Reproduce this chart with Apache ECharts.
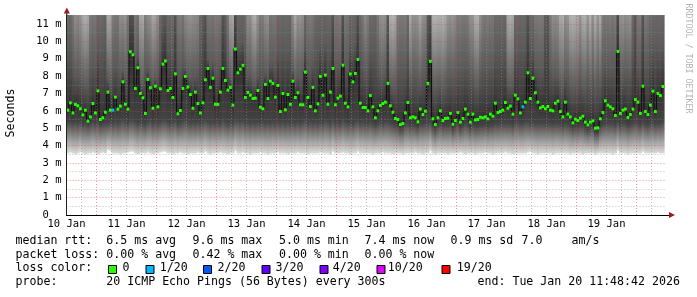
<!DOCTYPE html>
<html><head><meta charset="utf-8">
<script src="https://cdn.jsdelivr.net/npm/echarts@6/dist/echarts.min.js"></script>
<style>html,body{margin:0;padding:0;background:#fff}#c{width:697px;height:297px}</style>
</head><body><div id="c"></div>
<script>
// hour index 0 = 10 Jan 12:00, one value per hour
const median = [6.04,6.46,5.88,6.37,6.29,6.12,5.77,6.04,5.40,5.65,
 6.42,5.88,7.15,5.50,5.60,5.92,7.08,6.04,6.04,6.79,
 6.10,6.27,7.67,6.38,6.10,9.40,9.23,7.29,8.48,7.00,
 6.75,5.85,7.81,7.33,6.15,7.42,6.23,7.27,8.69,8.87,
 7.17,7.29,6.77,8.13,5.83,6.02,7.29,7.98,7.37,6.94,
 6.15,7.08,6.42,5.88,6.46,7.79,8.44,7.35,7.88,6.38,
 6.37,7.08,8.44,7.75,7.19,7.35,6.33,9.56,8.19,8.40,
 8.62,6.77,7.06,6.90,6.71,6.73,7.17,6.21,6.12,7.52,
 6.71,7.71,7.58,6.79,7.46,5.96,7.00,6.06,6.94,6.38,
 7.71,6.77,7.04,6.35,6.35,8.23,6.77,6.25,7.35,6.00,
 6.40,7.98,6.90,8.06,6.38,7.08,8.44,6.35,6.73,6.85,
 8.63,6.44,6.23,8.12,7.67,8.15,8.96,6.44,6.19,6.19,
 6.00,6.88,6.23,5.60,6.00,6.31,6.42,6.50,7.58,6.29,
 5.92,5.56,5.50,5.21,5.27,5.88,6.48,5.60,5.65,5.60,
 5.37,6.10,5.79,5.98,7.58,8.85,5.54,5.21,5.60,6.00,
 5.44,5.56,5.58,5.85,5.23,5.44,5.90,5.35,5.56,6.10,
 5.81,5.35,5.81,5.48,5.50,5.63,5.60,5.65,5.54,5.81,
 5.69,6.44,5.90,5.96,6.04,6.48,6.15,6.27,5.81,6.90,
 6.69,5.88,6.23,6.50,8.19,6.71,7.88,7.04,6.50,6.17,
 6.25,6.12,6.25,6.04,6.00,6.44,6.56,5.96,5.65,6.50,
 5.81,5.65,5.31,5.52,5.44,5.58,5.69,5.35,5.19,5.35,
 5.42,5.00,5.02,5.54,5.90,6.58,6.33,6.23,6.12,5.73,
 9.42,5.85,6.04,6.10,5.62,5.79,6.10,6.65,6.50,5.85,
 7.42,5.96,5.79,6.33,7.13,5.96,7.00,6.88,7.40];

const smokeMin = [3.55,3.6,3.55,3.5,3.55,3.65,3.55,3.5,3.55,3.55,3.6,3.55,3.5,3.55,3.6,3.55,3.75,3.7,3.55,3.55,
 3.55,3.5,3.55,3.55,3.6,3.65,3.65,3.55,3.5,3.55,3.55,3.55,3.6,3.55,3.5,3.55,3.55,3.6,3.65,3.65,
 3.55,3.55,3.5,3.55,3.55,3.6,3.55,3.55,3.5,3.55,3.55,3.55,3.6,3.55,3.55,3.65,3.55,3.5,3.55,3.55,
 3.55,3.6,3.55,3.55,3.5,3.55,3.55,3.7,3.55,3.55,3.6,3.55,3.55,3.5,3.55,3.55,3.55,3.6,3.55,3.55,
 3.5,3.55,3.55,3.55,3.6,3.55,3.55,3.55,3.5,3.55,3.55,3.55,3.6,3.55,3.55,3.55,3.5,3.55,3.55,3.55,
 3.55,3.6,3.55,3.55,3.55,3.5,3.65,3.55,3.55,3.55,3.6,3.55,3.55,3.5,3.55,3.55,3.65,3.55,3.55,3.55,
 3.55,3.55,3.5,3.55,3.55,3.55,3.6,3.55,3.55,3.55,3.5,3.55,3.55,3.55,3.5,3.55,3.55,3.55,3.55,3.6,
 3.55,3.55,3.5,3.55,3.55,3.7,3.55,3.5,3.55,3.55,3.55,3.55,3.5,3.55,3.55,3.55,3.55,3.6,3.55,3.5,
 3.55,3.55,3.55,3.5,3.55,3.55,3.55,3.6,3.55,3.55,3.5,3.55,3.55,3.55,3.55,3.6,3.55,3.55,3.5,3.55,
 3.55,3.55,3.55,3.55,3.6,3.65,3.55,3.55,3.5,3.55,3.55,3.55,3.55,3.55,3.5,3.55,3.55,3.55,3.55,3.55,
 3.55,3.5,3.55,3.55,3.55,3.55,3.5,3.55,3.55,3.55,3.55,3.5,3.55,3.55,3.55,3.55,3.55,3.55,3.5,3.55,
 3.7,3.55,3.55,3.55,3.5,3.55,3.55,3.55,3.55,3.55,3.65,3.55,3.55,3.55,3.55,3.55,3.6,3.55,3.55];

const smokeLow = [5.4,5.4,5.3,5.4,5.3,5.4,5.25,5.3,5.2,5.25,5.4,5.3,5.4,5.2,5.25,5.3,5.3,5.4,5.3,5.4,
 5.3,5.4,5.5,5.4,5.3,5.5,5.5,5.4,5.3,5.4,5.3,5.25,5.4,5.5,5.3,5.4,5.3,5.4,5.5,5.5,
 5.4,5.3,5.4,5.5,5.25,5.3,5.4,5.5,5.4,5.3,5.4,5.3,5.4,5.3,5.4,5.5,5.4,5.3,5.4,5.3,
 5.4,5.3,5.5,5.4,5.3,5.4,5.3,5.5,5.5,5.4,5.5,5.3,5.4,5.3,5.4,5.3,5.4,5.3,5.4,5.3,
 5.4,5.3,5.4,5.3,5.4,5.3,5.4,5.3,5.4,5.3,5.4,5.3,5.4,5.3,5.4,5.5,5.3,5.4,5.3,5.4,
 5.3,5.4,5.3,5.5,5.4,5.3,5.5,5.3,5.4,5.3,5.5,5.4,5.3,5.4,5.3,5.4,5.5,5.3,5.4,5.3,
 5.3,5.4,5.3,5.2,5.3,5.4,5.3,5.4,5.4,5.3,5.25,5.15,5.1,4.95,5.0,5.25,5.3,5.15,5.2,5.15,
 5.05,5.25,5.25,5.3,5.3,5.4,5.1,4.95,5.15,5.25,5.1,5.15,5.15,5.2,4.95,5.1,5.25,5.0,5.15,5.3,
 5.2,5.0,5.2,5.1,5.1,5.15,5.15,5.2,5.1,5.2,5.2,5.3,5.25,5.3,5.3,5.3,5.3,5.3,5.2,5.4,
 5.4,5.3,5.3,5.4,5.4,5.3,5.4,5.3,5.3,5.3,5.3,5.3,5.3,5.3,5.25,5.3,5.3,5.25,5.15,5.3,
 5.2,5.15,5.0,5.1,5.05,5.15,5.15,5.0,4.9,5.0,5.05,4.75,4.75,5.1,5.25,5.3,5.3,5.3,5.3,5.2,
 5.4,5.2,5.3,5.3,5.15,5.2,5.3,5.4,5.3,5.2,5.4,5.25,5.2,5.3,5.4,5.25,5.3,5.3,5.4];

const smokeHigh = [9.4,9.6,8.6,8.0,8.1,7.9,7.6,7.4,7.5,8.4,
 8.7,8.5,9.6,9.3,9.5,9.8,7.8,7.5,8.4,8.6,
 8.5,8.0,8.3,7.9,8.7,12.5,12.0,8.6,9.2,7.7,
 7.5,8.4,8.4,8.0,7.6,7.9,8.1,9.4,11.0,11.5,
 9.5,9.7,9.3,12.0,8.5,8.3,8.8,8.5,8.0,7.9,
 8.1,8.0,8.2,9.5,11.0,12.0,9.0,8.6,8.8,8.5,
 8.4,8.6,12.0,11.0,8.6,7.9,7.6,12.5,9.8,9.9,
 10.0,9.4,8.0,8.1,7.6,7.5,8.0,8.5,8.4,8.2,
 8.0,8.8,8.7,8.5,9.5,9.3,9.6,9.4,9.5,9.7,
 8.3,7.6,8.0,7.9,8.1,9.8,8.5,8.4,8.7,9.3,
 9.5,9.8,9.4,9.9,9.5,9.6,12.0,8.5,8.6,8.4,
 12.0,8.5,8.6,9.8,9.5,9.9,12.0,9.4,8.5,8.1,
 8.4,9.5,9.4,9.6,8.5,8.0,7.9,8.1,11.5,7.5,
 7.3,7.4,8.3,8.4,8.5,8.3,9.4,7.4,7.9,8.0,
 7.8,7.5,8.0,8.1,11.5,12.5,7.3,7.2,7.4,7.5,
 7.2,7.4,7.9,8.0,7.8,8.0,8.4,8.3,8.5,8.6,
 8.4,8.0,7.9,7.4,7.3,8.0,8.4,8.5,8.3,8.6,
 8.4,9.4,9.3,9.5,9.4,9.6,7.5,7.4,7.5,9.5,
 9.4,9.6,9.5,9.7,12.0,9.8,9.6,8.6,8.5,8.4,
 8.5,11.0,11.5,8.5,8.0,8.1,8.0,7.5,7.4,8.0,
 7.9,7.4,7.2,7.3,7.4,7.9,7.4,7.3,7.8,7.3,
 7.9,7.2,7.8,7.4,8.4,8.6,8.5,8.4,8.5,8.3,
 12.5,8.0,7.9,8.1,8.0,7.9,9.5,11.5,8.5,8.4,
 12.0,8.5,8.6,9.4,9.6,9.5,9.7,9.5,9.8];

const smokeMax = [23,25,19,15,16,15,13,12.5,13,18,
 20,19,24,22,25,26,12.8,13,18,19,
 20,15,15,14.5,19,40,36,19,20,13,
 12.8,18,15.5,15,13,13.2,15,23,32,34,
 24,25,23,38,19,18,20,15.5,15,14.5,
 15,15.5,16,24,30,36,19,19,20,18,
 19,20,36,30,19,13,12.8,40,25,26,
 26,23,15,15.5,13,12.6,15,19,18,15,
 14.5,20,19,19,24,23,25,23,24,25,
 15,12.8,15,14.5,15.5,25,19,18,19,23,
 24,25,23,26,24,24,36,19,19,18,
 36,19,20,25,24,25,38,23,19,15.5,
 18,24,23,25,19,15,14.5,15,34,12.6,
 12.3,12.8,18,19,19,18,23,12.8,15,15,
 14.5,13,15,15.5,34,40,12.5,12.3,12.6,12.5,
 12.3,12.8,14.5,15,14.5,15.5,18,18,19,19,
 18,15,14.5,12.6,12.4,15,18,19,18,19,
 19,23,22,24,23,24,12.8,12.5,13,24,
 23,25,24,25,38,25,24,19,19,18,
 19,30,34,19,15,15.5,15,12.8,12.6,15,
 14.5,12.5,12.3,12.5,12.8,14.5,12.6,12.5,14.5,12.4,
 15,12.5,14.5,12.8,18,19,19,18,20,18,
 40,15,14.5,15.5,15,14.5,24,34,19,18,
 36,19,20,23,24,24,25,24,25];

// [hour, lost pings out of 20]
const lossEvents = [[18, 1], [182, 1]];

const dayLabels = ['10 Jan','11 Jan','12 Jan','13 Jan','14 Jan','15 Jan','16 Jan','17 Jan','18 Jan','19 Jan'];
const midnightHours = [12,36,60,84,108,132,156,180,204,228];
const yTickValues = [0,1,2,3,4,5,6,7,8,9,10,11];

const lossThresholds = [0,1,2,3,4,10,19];
const lossLabels = ['0','1/20','2/20','3/20','4/20','10/20','19/20'];
const lossColors = ['#26ff00','#00b8ff','#0059ff','#5e00ff','#7e00ff','#dd00ff','#ff0000'];

const rttStats = ['6.5 ms avg','9.6 ms max','5.0 ms min','7.4 ms now','0.9 ms sd','7.0','am/s'];
const lossStats = ['0.00 % avg','0.42 % max','0.00 % min','0.00 % now'];
const probeText = '20 ICMP Echo Pings (56 Bytes) every 300s';
const endText = 'end: Tue Jan 20 11:48:42 2026';

// ---------------------------------------------------------------
const MONO = '"DejaVu Sans Mono", monospace';
const lossCount = median.map(() => 0);
lossEvents.forEach(([h, c]) => { lossCount[h] = c; });
function lossColor(c) {
  let col = lossColors[0];
  for (let i = 0; i < lossThresholds.length; i++) if (c >= lossThresholds[i]) col = lossColors[i];
  return col;
}

const smokeData = median.map((m, h) => [h, smokeMin[h], smokeLow[h], m, smokeHigh[h], smokeMax[h]]);
const medianData = median.map((m, h) => [h, m]);
const segData = median.map((m, h) => [h, m, lossCount[h]]);

// grid lines (drawn over the smoke, like rrdtool)
const MAJOR = {color: 'rgba(235,60,60,0.55)', width: 1, type: [1, 2]};
const MINOR = {color: 'rgba(140,140,140,0.55)', width: 1, type: [1, 2]};
const gridLines = [];
for (let h = 6; h < 240; h += 6) {
  if (midnightHours.indexOf(h) < 0) gridLines.push({xAxis: h, lineStyle: MINOR});
}
midnightHours.forEach(h => gridLines.push({xAxis: h, lineStyle: MAJOR}));
yTickValues.forEach(v => {
  gridLines.push({yAxis: v + 0.5, lineStyle: MINOR});
  if (v > 0) gridLines.push({yAxis: v, lineStyle: MAJOR});
});

const chart = echarts.init(document.getElementById('c'), null, {renderer: 'canvas', width: 697, height: 297});

const texts = [];
function txt(x, y, s, extra) {
  texts.push(Object.assign({type: 'text', z: 100, style: {x: x, y: y, text: s, font: '11.6px ' + MONO, fill: '#000',
    textVerticalAlign: 'middle', verticalAlign: 'middle'}}, extra || {}));
}
const rowY = [241.3, 254.8, 268.3, 281.8];
const statX = [106.3, 192.5, 279, 364.5, 450.5, 521.5, 571.5];
txt(15.5, rowY[0], 'median rtt:');
rttStats.forEach((s, i) => txt(statX[i], rowY[0], s));
txt(15.5, rowY[1], 'packet loss:');
lossStats.forEach((s, i) => txt(statX[i], rowY[1], s));
txt(15.5, rowY[2], 'loss color:');
const boxX = [108.5, 146, 203.5, 262, 320, 377, 442];
const labX = [122.5, 159.8, 217.6, 275.5, 332.8, 387.8, 456.8];
lossLabels.forEach((l, i) => {
  texts.push({type: 'rect', z: 100, shape: {x: boxX[i], y: 265.5, width: 8, height: 8},
    style: {fill: lossColors[i], stroke: '#000', lineWidth: 1}});
  txt(labX[i], rowY[2], l);
});
txt(15.5, rowY[3], 'probe:');
txt(106.3, rowY[3], probeText);
txt(477.5, rowY[3], endText);
// y axis title
texts.push({type: 'text', z: 100, x: 11, y: 113, rotation: Math.PI / 2,
  style: {text: 'Seconds', font: '11.6px ' + MONO, fill: '#000', textAlign: 'center', align: 'center',
    textVerticalAlign: 'middle', verticalAlign: 'middle'}});
// rrdtool tag
texts.push({type: 'text', z: 100, x: 688.5, y: 58.5, rotation: -Math.PI / 2,
  style: {text: 'RRDTOOL / TOBI OETIKER', font: '8.3px ' + MONO, fill: '#b4b4b4', textAlign: 'center', align: 'center',
    textVerticalAlign: 'middle', verticalAlign: 'middle'}});
// axis arrows
texts.push({type: 'polygon', z: 100, shape: {points: [[63.8, 13.5], [69.8, 13.5], [66.8, 7.5]]}, style: {fill: '#9b1c1c'}});
texts.push({type: 'line', z: 99, shape: {x1: 66.8, y1: 13, x2: 66.8, y2: 16}, style: {stroke: '#222', lineWidth: 1}});
texts.push({type: 'polygon', z: 100, shape: {points: [[669, 212], [669, 218], [675, 215]]}, style: {fill: '#9b1c1c'}});
texts.push({type: 'line', z: 99, shape: {x1: 666, y1: 215.5, x2: 670, y2: 215.5}, style: {stroke: '#000', lineWidth: 1}});

chart.setOption({
  animation: false,
  backgroundColor: '#ffffff',
  grid: {left: 66.5, top: 15, width: 600, height: 200, containLabel: false},
  xAxis: {
    type: 'value', min: 0, max: 240, interval: 24, z: 6,
    axisLine: {show: true, lineStyle: {color: '#000', width: 1}},
    axisTick: {show: false}, splitLine: {show: false},
    axisLabel: {
      fontFamily: MONO, fontSize: 10.5, color: '#000', margin: 4, showMaxLabel: false,
      formatter: v => dayLabels[Math.round(v / 24)] || ''
    }
  },
  yAxis: {
    type: 'value', min: 0, max: 11.52, interval: 1, z: 6,
    axisLine: {show: true, lineStyle: {color: '#222', width: 1}},
    axisTick: {show: false}, splitLine: {show: false},
    axisLabel: {
      fontFamily: MONO, fontSize: 10.5, color: '#000', margin: 5, showMaxLabel: false,
      formatter: v => (yTickValues.indexOf(v) < 0 ? '' : (v === 0 ? '0  ' : v + ' m'))
    }
  },
  series: [
    {
      type: 'custom', z: 2, silent: true, clip: false,
      data: smokeData,
      encode: {x: 0, y: [1, 5]},
      renderItem: function (params, api) {
        const h = api.value(0);
        const xa = api.coord([h, 0])[0], xb = api.coord([h + 1, 0])[0];
        const vals = [api.value(1), api.value(2), api.value(3), api.value(4), api.value(5)];
        const yB = api.coord([h, vals[0]])[1];
        const yTraw = api.coord([h, vals[4]])[1];
        const yT = Math.max(yTraw, params.coordSys.y);
        const span = vals[4] - vals[0];
        let last = 0;
        const off = v => { let o = (v - vals[0]) / span; o = Math.min(1, Math.max(last, o)); last = o; return o; };
        const stops = [
          {offset: off(vals[0]), color: '#dadada'},
          {offset: off(vals[1]), color: '#444444'},
          {offset: off(vals[2]), color: '#333333'},
          {offset: off(vals[3]), color: '#5a5a5a'},
          {offset: 1, color: '#c4c4c4'}
        ];
        return {
          type: 'rect',
          shape: {x: xa, y: yT, width: xb - xa + 0.6, height: yB - yT},
          style: {fill: new echarts.graphic.LinearGradient(0, yB, 0, yTraw, stops, true), stroke: null}
        };
      }
    },
    {
      type: 'line', z: 3, silent: true, symbol: 'none', data: medianData,
      lineStyle: {opacity: 0, width: 0},
      markLine: {silent: true, symbol: ['none', 'none'], label: {show: false}, animation: false, data: gridLines}
    },
    {
      type: 'line', z: 4, silent: true, symbol: 'none', step: 'end', data: medianData,
      lineStyle: {color: '#111', width: 1.2}
    },
    {
      type: 'custom', z: 5, silent: true, clip: false,
      data: segData,
      encode: {x: 0, y: 1},
      renderItem: function (params, api) {
        const h = api.value(0);
        const p = api.coord([h, api.value(1)]);
        const xb = api.coord([h + 1, api.value(1)])[0];
        return {
          type: 'rect',
          shape: {x: p[0], y: p[1] - 1.5, width: xb - p[0] + 0.3, height: 3},
          style: {fill: lossColor(api.value(2)), stroke: null}
        };
      }
    }
  ],
  graphic: texts
});
</script>
</body></html>
